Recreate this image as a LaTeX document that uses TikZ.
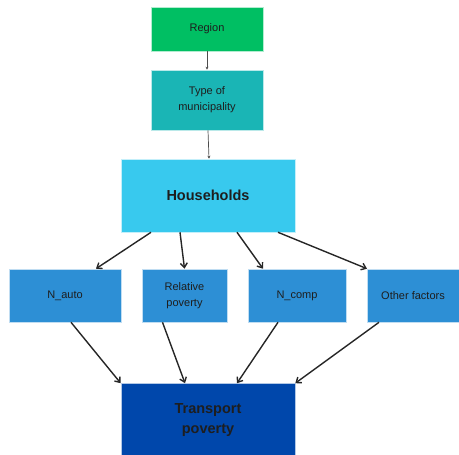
\documentclass[tikz,border=0pt]{standalone}
\usepackage{fontspec}
\setmainfont{Liberation Sans}
\usetikzlibrary{arrows.meta}
\definecolor{cRegion}{HTML}{00BF63}
\definecolor{cType}{HTML}{1AB5B5}
\definecolor{cHH}{HTML}{38C9EE}
\definecolor{cMid}{HTML}{2D8FD5}
\definecolor{cTP}{HTML}{0047AB}
\definecolor{cTxt}{HTML}{1E1E1E}
\tikzset{
  box/.style={rectangle, inner sep=0pt, align=center, text=cTxt, draw=white!70!#1, line width=0.6pt, fill=#1, font=\fontsize{11}{16}\selectfont},
  thin arrow/.style={draw=black!70, line width=0.7pt, -{Stealth[length=3pt,width=3pt]}},
  thick arrow/.style={draw=black!85, line width=1.4pt, -{Straight Barb[length=4.5pt,width=7pt]}},
}
\begin{document}
\begin{tikzpicture}[x=1pt,y=-1pt]
\useasboundingbox (0,0) rectangle (459,455);
\node[box=cRegion, minimum width=112pt, minimum height=44pt] (reg) at (207,29) {Region};
\node[box=cType, minimum width=112pt, minimum height=60pt] (typ) at (207,100) {Type of\\municipality};
\node[box=cHH, minimum width=174pt, minimum height=73pt, font=\bfseries\fontsize{14.5}{18}\selectfont] (hh) at (208,195.5) {Households};
\node[box=cMid, minimum width=112pt, minimum height=53pt] (na) at (65,295.5) {N\_auto};
\node[box=cMid, minimum width=85pt, minimum height=53pt] (rp) at (184.5,295.5) {Relative\\poverty};
\node[box=cMid, minimum width=98pt, minimum height=53pt] (nc) at (297,295.5) {N\_comp};
\node[box=cMid, minimum width=92pt, minimum height=53pt] (of) at (413,295.5) {Other factors};
\node[box=cTP, minimum width=174pt, minimum height=74pt, font=\bfseries\fontsize{14.5}{20}\selectfont] (tp) at (208,420.5) {Transport\\poverty};
\draw[thin arrow] (reg.south) -- (typ.north);
\draw[thin arrow] ([xshift=1pt]typ.south) -- ([xshift=1pt]hh.north);
\draw[thick arrow] ([xshift=-57pt]hh.south) -- ([xshift=31pt]na.north);
\draw[thick arrow] ([xshift=-28pt]hh.south) -- ([xshift=0pt]rp.north);
\draw[thick arrow] ([xshift=29pt]hh.south) -- ([xshift=-34pt]nc.north);
\draw[thick arrow] ([xshift=70pt]hh.south) -- ([xshift=-46pt]of.north);
\draw[thick arrow] ([xshift=6pt]na.south) -- (tp.north west);
\draw[thick arrow] ([xshift=-22pt]rp.south) -- ([xshift=-23pt]tp.north);
\draw[thick arrow] ([xshift=-19pt]nc.south) -- ([xshift=29pt]tp.north);
\draw[thick arrow] ([xshift=-34pt]of.south) -- (tp.north east);
\end{tikzpicture}
\end{document}
